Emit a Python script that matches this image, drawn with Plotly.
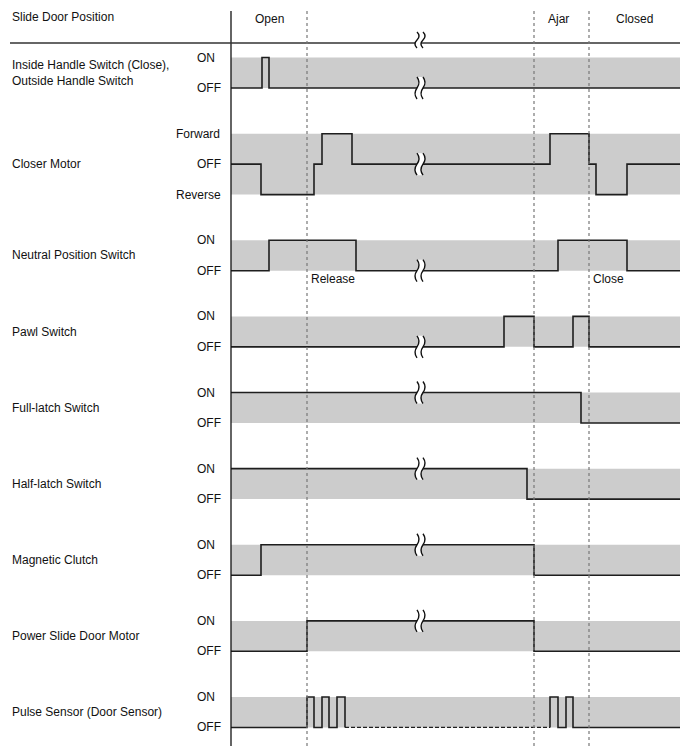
import plotly.graph_objects as go

# ---------------- data ----------------
HEADER_TITLE = "Slide Door Position"
PHASE_NAMES = ["Open", "Ajar", "Closed"]
PHASE_SPANS = [(0, 76), (303, 352), (358, 449)]
MARKER_TIMES = [76, 303, 358]                   # dashed reference lines
EVENT_LABELS = ["Release", "Close"]
EVENT_TIMES = [76, 358]
T_END = 449
BREAK_T = 189

ROW_NAMES = [
    "Inside Handle Switch (Close),<br>Outside Handle Switch",
    "Closer Motor",
    "Neutral Position Switch",
    "Pawl Switch",
    "Full-latch Switch",
    "Half-latch Switch",
    "Magnetic Clutch",
    "Power Slide Door Motor",
    "Pulse Sensor (Door Sensor)",
]

handle_times = [0, 31, 38, 449]
handle_levels = [0, 1, 0, 0]

closer_times = [0, 30, 83, 91, 121, 319, 358, 365, 396, 449]
closer_levels = [0, -1, 0, 1, 0, 1, 0, -1, 0, 0]

neutral_times = [0, 38, 125, 327, 396, 449]
neutral_levels = [0, 1, 0, 1, 0, 0]

pawl_times = [0, 273, 303, 342, 358, 449]
pawl_levels = [0, 1, 0, 1, 0, 0]

full_latch_times = [0, 350, 449]
full_latch_levels = [1, 0, 0]

half_latch_times = [0, 296, 449]
half_latch_levels = [1, 0, 0]

clutch_times = [0, 30, 303, 449]
clutch_levels = [0, 1, 0, 0]

motor_times = [0, 76, 303, 449]
motor_levels = [0, 1, 0, 0]

pulse_times = [0, 76, 83, 91, 98, 106, 114, 319, 327, 335, 342, 449]
pulse_levels = [0, 1, 0, 1, 0, 1, 0, 1, 0, 1, 0, 0]
PULSE_DASHED_SPAN = (114, 319)

SIGNALS = [
    (handle_times, handle_levels),
    (closer_times, closer_levels),
    (neutral_times, neutral_levels),
    (pawl_times, pawl_levels),
    (full_latch_times, full_latch_levels),
    (half_latch_times, half_latch_levels),
    (clutch_times, clutch_levels),
    (motor_times, motor_levels),
    (pulse_times, pulse_levels),
]
LEVEL_NAMES = {1: "ON", 0: "OFF"}
CLOSER_LEVEL_NAMES = {1: "Forward", 0: "OFF", -1: "Reverse"}
BREAK_ROWS = [0, 1, 2, 3, 4, 5, 6, 7]

# ---------------- geometry helpers ----------------
W, H = 688, 755      # window size
PAGE_MARGIN = 8      # default body margin of the html page
X0_PX = 231          # time 0 pixel (window coords)
Y0_PX = 88           # level 0 of first row pixel (window coords)
P = 30.45            # px per level unit


def px_x(px):
    return px - X0_PX


def px_y(px):
    return (Y0_PX - px) / P


FONT = dict(family="Liberation Sans, Arial, sans-serif", size=12, color="#111111")
LINE_COLOR = "#1e1e1e"

fig = go.Figure()
shapes = []
annotations = []

# row bases
bases = []
b = 0.0
for i, (t, lv) in enumerate(SIGNALS):
    bases.append(b)
    b -= 2.5 + (1 if min(lv) < 0 else 0)

# bands
for i, (t, lv) in enumerate(SIGNALS):
    lo, hi = min(min(lv), 0), max(max(lv), 1)
    shapes.append(dict(type="rect", xref="x", yref="y", x0=0, x1=T_END,
                       y0=bases[i] + lo, y1=bases[i] + hi,
                       fillcolor="#cccccc", line=dict(width=0), layer="below"))

# signal traces
for i, (t, lv) in enumerate(SIGNALS):
    base = bases[i]
    if i == len(SIGNALS) - 1:
        d0, d1 = PULSE_DASHED_SPAN
        seg1 = [(tt, l) for tt, l in zip(t, lv) if tt <= d0]
        seg2 = [(d1, 0)] + [(tt, l) for tt, l in zip(t, lv) if tt >= d1]
        for seg in (seg1, seg2):
            fig.add_trace(go.Scatter(x=[s[0] for s in seg], y=[base + s[1] for s in seg],
                                     mode="lines", line=dict(color=LINE_COLOR, width=1.6, shape="hv"),
                                     hoverinfo="skip"))
        fig.add_trace(go.Scatter(x=[d0, d1], y=[base, base], mode="lines",
                                 line=dict(color=LINE_COLOR, width=1.3, dash="4px,2px"),
                                 hoverinfo="skip"))
    else:
        fig.add_trace(go.Scatter(x=t, y=[base + l for l in lv], mode="lines",
                                 line=dict(color=LINE_COLOR, width=1.6, shape="hv"),
                                 hoverinfo="skip"))

# row labels and level labels
for i, (t, lv) in enumerate(SIGNALS):
    base = bases[i]
    lo, hi = min(min(lv), 0), max(max(lv), 1)
    annotations.append(dict(x=px_x(10), y=base + (lo + hi) / 2, text=ROW_NAMES[i],
                            xanchor="left", yanchor="middle", showarrow=False, align="left",
                            font=FONT, xref="x", yref="y"))
    names = CLOSER_LEVEL_NAMES if lo < 0 else LEVEL_NAMES
    for lvl, name in names.items():
        right = {"ON": 217, "OFF": 223, "Forward": 222, "Reverse": 223}[name]
        annotations.append(dict(x=px_x(right), y=base + lvl, text=name, xanchor="right",
                                yanchor="middle", showarrow=False, font=FONT, xref="x", yref="y"))

# axis and header line
shapes.append(dict(type="line", xref="x", yref="y", x0=0, x1=0, y0=px_y(11), y1=px_y(746),
                   line=dict(color="#111111", width=1.3)))
shapes.append(dict(type="line", xref="x", yref="y", x0=px_x(10), x1=T_END, y0=px_y(43), y1=px_y(43),
                   line=dict(color="#333333", width=1.5)))

# dashed reference lines
for mt in MARKER_TIMES:
    shapes.append(dict(type="line", xref="x", yref="y", x0=mt, x1=mt, y0=px_y(11), y1=px_y(746),
                       line=dict(color="#777777", width=1.2, dash="3px,3px")))

# header texts
annotations.append(dict(x=px_x(10), y=px_y(17), text=HEADER_TITLE, xanchor="left", yanchor="middle",
                        showarrow=False, font=FONT, xref="x", yref="y"))
for name, (a, c) in zip(PHASE_NAMES, PHASE_SPANS):
    annotations.append(dict(x=(a + c) / 2, y=px_y(19), text=name, xanchor="center", yanchor="middle",
                            showarrow=False, font=FONT, xref="x", yref="y"))
for name, et in zip(EVENT_LABELS, EVENT_TIMES):
    annotations.append(dict(x=et + 2, y=bases[2] + px_y(279) - px_y(271), text=name, xanchor="left",
                            yanchor="middle", showarrow=False, font=FONT, xref="x", yref="y"))


# break marks
def level_at(times, levels, tq):
    cur = levels[0]
    for tt, l in zip(times, levels):
        if tt <= tq:
            cur = l
    return cur


def break_mark(cx, cy_data, h_px):
    half = h_px / 2 / P
    q = h_px / 4 / P
    a = 4.0
    out = []
    xl, xr = cx - 3, cx + 3
    top, bot = cy_data + half, cy_data - half
    fill = (f"M {xl},{top} Q {xl + a},{cy_data + q} {xl},{cy_data} Q {xl - a},{cy_data - q} {xl},{bot} "
            f"L {xr},{bot} Q {xr - a},{cy_data - q} {xr},{cy_data} Q {xr + a},{cy_data + q} {xr},{top} Z")
    out.append(dict(type="path", path=fill, xref="x", yref="y", fillcolor="white",
                    line=dict(width=0), layer="above"))
    for xc in (xl, xr):
        p = f"M {xc},{top} Q {xc + a},{cy_data + q} {xc},{cy_data} Q {xc - a},{cy_data - q} {xc},{bot}"
        out.append(dict(type="path", path=p, xref="x", yref="y",
                        line=dict(color="#111111", width=1.4), layer="above"))
    return out


shapes += break_mark(BREAK_T, px_y(40), 16)
for r in BREAK_ROWS:
    t, lv = SIGNALS[r]
    shapes += break_mark(BREAK_T, bases[r] + level_at(t, lv, BREAK_T), 22)

fig.update_layout(
    width=W - PAGE_MARGIN, height=H - PAGE_MARGIN, autosize=False,
    margin=dict(l=0, r=0, t=0, b=0, pad=0),
    paper_bgcolor="white", plot_bgcolor="white",
    showlegend=False,
    xaxis=dict(visible=False, range=[px_x(PAGE_MARGIN), px_x(W)], fixedrange=True),
    yaxis=dict(visible=False, range=[px_y(H), px_y(PAGE_MARGIN)], fixedrange=True),
    shapes=shapes,
    annotations=annotations,
)

fig.write_html("out.html")
